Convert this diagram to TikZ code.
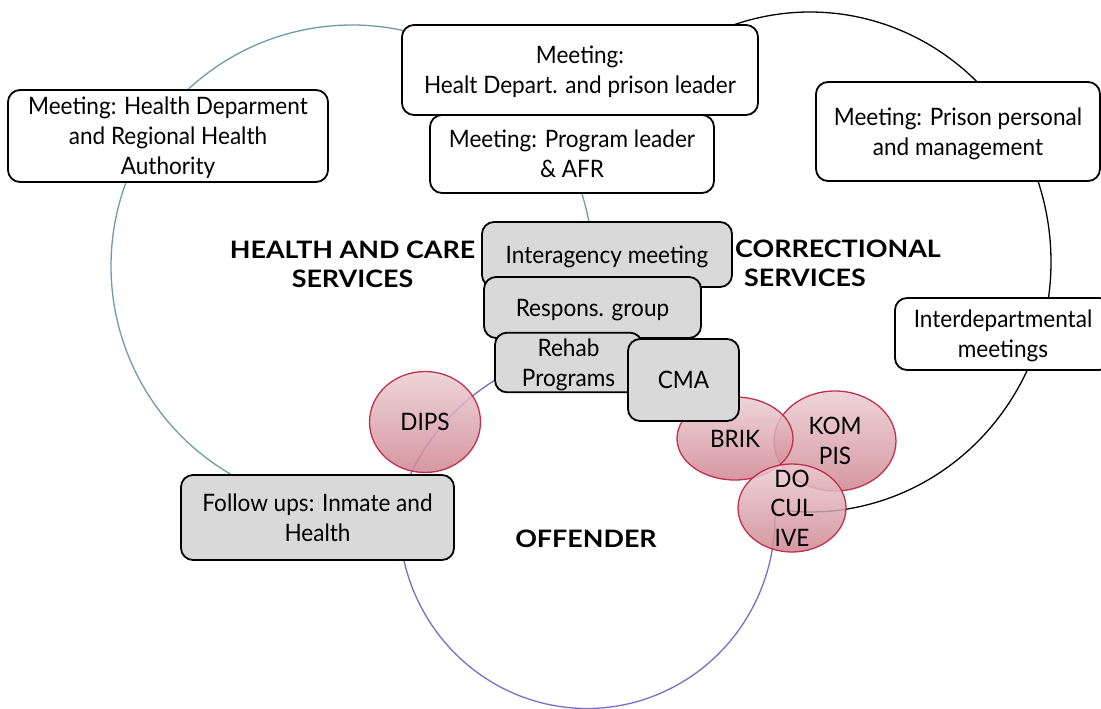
\documentclass[tikz,border=0pt]{standalone}
\usepackage{fontspec}
\setmainfont{Lato}[FakeStretch=0.94]
\newfontfamily\headfont{Lato}[FakeStretch=1.12]
\usetikzlibrary{shapes.geometric}
\definecolor{tealline}{HTML}{6F9AAA}
\definecolor{purpline}{HTML}{7E6BC9}
\definecolor{boxgray}{HTML}{D9D9D9}
\definecolor{pinkedge}{HTML}{C2304F}
\definecolor{pinktop}{HTML}{EBCDD3}
\definecolor{pinkbot}{HTML}{CF8590}
\newcommand{\lst}{\rule[-6pt]{0pt}{29.3pt}}
\begin{document}
\begin{tikzpicture}[x=1pt,y=-1pt,
  tx/.style={font=\fontsize{24}{29}\selectfont, align=center, inner sep=0pt, text=black},
  wbox/.style={tx, draw=black, line width=1.8pt, fill=white, rounded corners=12pt},
  gbox/.style={wbox, fill=boxgray},
  pinkov/.style={ellipse, inner sep=0pt, draw=pinkedge, line width=1.3pt, top color=pinktop, bottom color=pinkbot, fill opacity=0.85, draw opacity=1},
  head/.style={font=\headfont\bfseries\fontsize{24}{29}\selectfont, inner sep=0pt, text=black},
  arcteal/.style={draw=tealline, line width=1.3pt},
  arcblack/.style={draw=black, line width=1.3pt},
  arcpurp/.style={draw=purpline, line width=1.3pt}
]
\useasboundingbox (0,0) rectangle (1101,709);
\clip (0,0) rectangle (1101,709);

% ---- cycle arcs ----
% health and care services (teal)
\draw[arcteal] plot[domain=-138:-74, samples=60, smooth] ({352+241*cos(\x)},{266+241*sin(\x)});
\draw[arcteal] plot[domain=116:203, samples=70, smooth] ({352+241*cos(\x)},{266+241*sin(\x)});
\draw[arcteal] plot[domain=-20:-8, samples=12, smooth] ({352+241*cos(\x)},{266+241*sin(\x)});
% correctional services (black)
\draw[arcblack] plot[domain=-115:-40, samples=60, smooth] ({810+241*cos(\x)},{262+250*sin(\x)});
\draw[arcblack] plot[domain=-22:12, samples=30, smooth] ({810+241*cos(\x)},{262+250*sin(\x)});
\draw[arcblack] plot[domain=20:95, samples=60, smooth] ({810+241*cos(\x)},{262+250*sin(\x)});
% offender (purple)
\coordinate (p0) at (506,374);
\coordinate (p1) at (408,480);
\draw[arcpurp] (p0) .. controls (460,398) and (425,440) .. (p1);
\draw[arcpurp] plot[domain=-5:170, samples=90, smooth] ({587+188*cos(\x)},{517+191.5*sin(\x)});

% ---- boxes ----
\node[wbox, minimum width=356pt, minimum height=90pt] (hp) at (580,70) {\lst Meeting:\\\lst Healt Depart. and prison leader};
\node[wbox, minimum width=284pt, minimum height=78pt] (pl) at (572,154) {\lst Meeting: Program leader\\\lst \& AFR};
\node[wbox, minimum width=320pt, minimum height=92pt] (hd) at (168,136) {\lst Meeting: Health Deparment\\\lst and Regional Health\\\lst Authority};
\node[wbox, minimum width=284pt, minimum height=99pt] (pp) at (958,131.5) {\lst Meeting: Prison personal\\\lst and management};
\node[wbox, minimum width=216pt, minimum height=72pt] (idm) at (1003,334) {\lst Interdepartmental\\\lst meetings};
\node[gbox, minimum width=273pt, minimum height=85pt] (fu) at (317.5,517.5) {\lst Follow ups: Inmate and\\\lst Health};

\node[pinkov, minimum width=111pt, minimum height=101pt] (dips) at (425,422) {};
\node[tx] (dipst) at (dips.center) {\lst DIPS};

\node[gbox, minimum width=250pt, minimum height=65pt] (ia) at (607,254.5) {\lst Interagency meeting};
\node[gbox, minimum width=217pt, minimum height=61pt] (rg) at (592.5,307.5) {\lst Respons. group};
\node[gbox, minimum width=147pt, minimum height=59pt] (rp) at (568.5,362.5) {\lst Rehab\\\lst Programs};

\node[pinkov, minimum width=122pt, minimum height=100pt] (kom) at (835,441) {};
\node[tx] (komt) at (kom.center) {\lst KOM\\\lst PIS};
\node[pinkov, minimum width=116pt, minimum height=83pt] (brik) at (735,438.5) {};
\node[tx] (brikt) at (brik.center) {\lst BRIK};
\node[pinkov, minimum width=108pt, minimum height=88pt] (doc) at (792,508) {};
\node[tx, font=\fontsize{24}{29.5}\selectfont] (doct) at (doc.center) {\lst DO\\\lst CUL\\\lst IVE};

\node[gbox, minimum width=111pt, minimum height=82pt] (cma) at (683.5,380) {\lst CMA};

% ---- headings ----
\node[head, align=center] (hcs) at (352.5,264.5) {HEALTH AND CARE\\SERVICES};
\node[head, align=left, anchor=north west] (cs) at (735,239.5) {CORRECTIONAL\\\hspace*{9pt}SERVICES};
\node[head] (off) at (586,538.5) {OFFENDER};
\end{tikzpicture}
\end{document}
